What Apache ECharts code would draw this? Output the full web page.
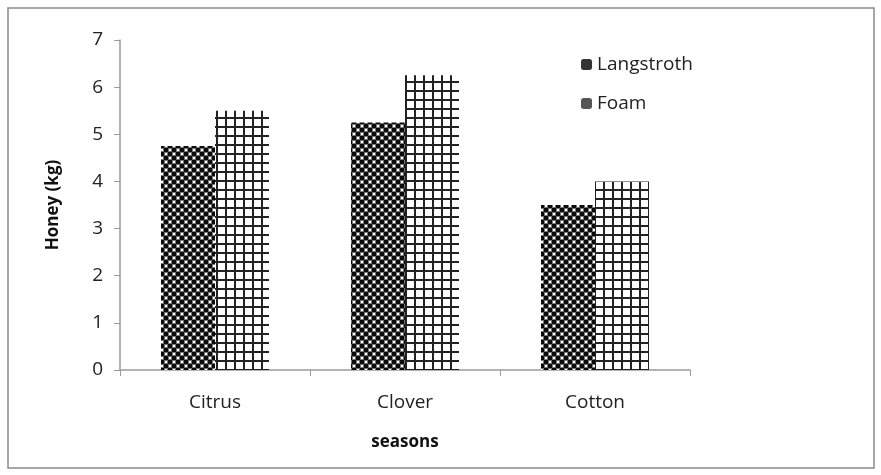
<!DOCTYPE html>
<html><head><meta charset="utf-8">
<script src="https://cdn.jsdelivr.net/npm/echarts@6/dist/echarts.min.js"></script>
<style>html,body{margin:0;padding:0;background:#fff}#c{width:881px;height:475px}</style>
</head><body><div id="c"></div>
<script>
const categories = ['Citrus', 'Clover', 'Cotton'];
const langstroth = [4.75, 5.25, 3.5];
const foam = [5.5, 6.25, 4.0];
const yTicks = [0, 1, 2, 3, 4, 5, 6, 7];

function checker() {
  const c = document.createElement('canvas'); c.width = 8; c.height = 8;
  const g = c.getContext('2d');
  g.fillStyle = '#ffffff'; g.fillRect(0, 0, 8, 8);
  g.fillStyle = '#0a0a0a';
  g.fillRect(0, 0, 4, 4); g.fillRect(4, 4, 4, 4);
  g.fillStyle = 'rgba(0,0,0,0.55)'; g.fillRect(0, 4, 4, 4); g.fillRect(4, 0, 4, 4);
  g.fillStyle = '#ffffff'; g.fillRect(5, 1, 2, 2); g.fillRect(1, 5, 2, 2);
  return c;
}
function gridPat() {
  const c = document.createElement('canvas'); c.width = 9; c.height = 9;
  const g = c.getContext('2d');
  g.fillStyle = '#ffffff'; g.fillRect(0, 0, 9, 9);
  g.fillStyle = '#222222';
  g.fillRect(0, 0, 2, 9); g.fillRect(0, 0, 9, 2);
  return c;
}
const font = '"Open Sans", "Liberation Sans", sans-serif';
const chart = echarts.init(document.getElementById('c'));
chart.setOption({
  animation: false,
  backgroundColor: '#fff',
  graphic: [{ type: 'rect', shape: { x: 8, y: 8, width: 866, height: 460 }, style: { fill: 'none', stroke: '#8a8a8a', lineWidth: 1.5 } }],
  grid: { left: 120, right: 191, top: 40, bottom: 105 },
  legend: {
    orient: 'vertical', left: 576, top: 50, itemGap: 20, itemWidth: 11, itemHeight: 11,
    textStyle: { fontFamily: font, fontSize: 19, color: '#222' },
    data: [
      { name: 'Langstroth', itemStyle: { color: '#333' } },
      { name: 'Foam', itemStyle: { color: '#555' } }
    ]
  },
  xAxis: {
    type: 'category', data: categories,
    name: 'seasons', nameLocation: 'middle', nameGap: 64,
    nameTextStyle: { fontFamily: font, fontSize: 17, fontWeight: 'bold', color: '#111' },
    axisLine: { lineStyle: { color: '#9a9a9a', width: 1.5 } },
    axisTick: { show: true, alignWithLabel: false, length: 6, lineStyle: { color: '#9a9a9a' } },
    axisLabel: { fontFamily: font, fontSize: 19, color: '#222', margin: 23 }
  },
  yAxis: {
    type: 'value', min: 0, max: 7, interval: 1,
    name: 'Honey (kg)', nameLocation: 'middle', nameGap: 58,
    nameTextStyle: { fontFamily: font, fontSize: 17, fontWeight: 'bold', color: '#111' },
    axisLine: { show: true, lineStyle: { color: '#9a9a9a', width: 1.5 } },
    axisTick: { show: true, length: 6, lineStyle: { color: '#9a9a9a' } },
    splitLine: { show: false },
    axisLabel: { fontFamily: font, fontSize: 19, color: '#222', margin: 17,
      formatter: v => yTicks.includes(v) ? String(v) : '' }
  },
  series: [
    { name: 'Langstroth', type: 'bar', data: langstroth, barWidth: 54, barGap: '0%',
      itemStyle: { color: { image: checker(), repeat: 'repeat' } } },
    { name: 'Foam', type: 'bar', data: foam, barWidth: 54, barGap: '0%',
      itemStyle: { color: { image: gridPat(), repeat: 'repeat' } } }
  ]
});
</script></body></html>
